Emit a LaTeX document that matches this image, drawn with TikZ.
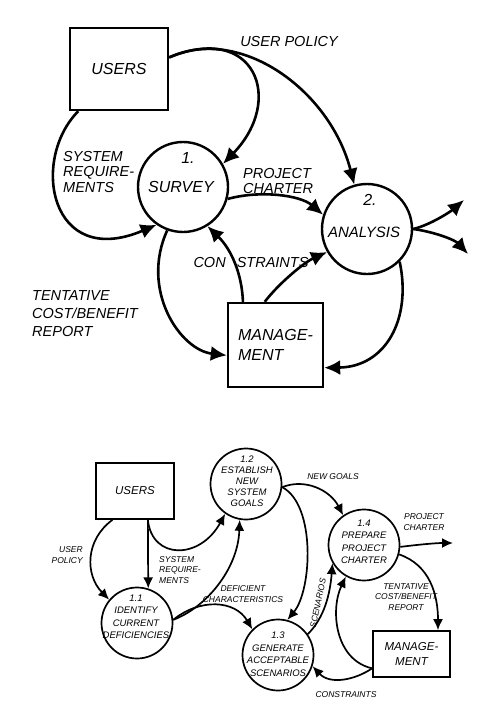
\documentclass[tikz,border=0pt]{standalone}
\usepackage{fontspec}
\setmainfont{Liberation Sans}
\usetikzlibrary{arrows.meta}
\begin{document}
\begin{tikzpicture}[x=1pt,y=-1pt,
  ext/.style={draw, rectangle, line width=2.4pt, inner sep=0pt, align=center, font=\fontsize{16}{20}\selectfont\itshape},
  proc/.style={draw, circle, line width=2.4pt, minimum size=90pt, inner sep=0pt},
  txt/.style={inner sep=0pt, font=\fontsize{16}{20}\selectfont\itshape},
  lbl/.style={inner sep=0pt, font=\fontsize{14.5}{15.5}\selectfont\itshape},
  flow/.style={line width=2.6pt, -{Latex[length=16pt,width=15pt]}},
  ext2/.style={draw, rectangle, line width=1.7pt, inner sep=0pt, align=center, font=\fontsize{11.5}{15}\selectfont\itshape},
  proc2/.style={draw, circle, line width=1.7pt, minimum size=71pt, inner sep=0pt},
  txt2/.style={inner sep=0pt, align=center, font=\fontsize{9.5}{12.5}\selectfont\itshape},
  lbl2/.style={inner sep=0pt, font=\fontsize{8.5}{10.5}\selectfont\itshape},
  flow2/.style={line width=1.7pt, -{Latex[length=11pt,width=10pt]}}]
\useasboundingbox (0,0) rectangle (488,720);

% overview
\node[ext, minimum width=98pt, minimum height=82pt] (users) at (119,69) {USERS};
\node[proc] (survey) at (183,187) {};
\node[txt] (survey-no) at (188,158) {1.};
\node[txt] (survey-nm) at (181,187) {SURVEY};
\node[proc] (analysis) at (367,229) {};
\node[txt] (analysis-no) at (370,200) {2.};
\node[txt, font=\fontsize{15}{18}\selectfont\itshape] (analysis-nm) at (364,232) {ANALYSIS};
\node[ext, minimum width=95pt, minimum height=84pt, align=left] (mgmt) at (275.5,345) {MANAGE-\\MENT};
\coordinate (out1) at (464,200);
\coordinate (out2) at (468,254);

\draw[flow] (users.13) .. controls (255,22) and (285,100) .. (survey.30);
\draw[flow] (users.13) .. controls (240,25) and (330,90) .. (analysis.106);
\draw[flow] (users.226) .. controls (30,160) and (50,270) .. (survey.235);
\draw[flow] (survey.-15) .. controls (260,190) and (300,195) .. (analysis.162);
\draw[flow] (survey.250) .. controls (140,290) and (180,350) .. (mgmt.192);
\draw[flow] (mgmt.127) .. controls (242,275) and (232,250) .. (survey.-58);
\draw[flow] (mgmt.104) .. controls (280,282) and (305,262) .. (analysis.210);
\draw[flow] (analysis.-45) .. controls (412,320) and (385,367) .. (mgmt.-25);
\draw[flow] (analysis.0) .. controls (430,225) and (450,212) .. (out1);
\draw[flow] (analysis.0) .. controls (435,232) and (455,240) .. (out2);

\node[lbl] (l-policy) at (289,42) {USER POLICY};
\node[lbl, anchor=west, align=left] (l-sysreq) at (63,172) {SYSTEM\\REQUIRE-\\MENTS};
\node[lbl, anchor=west, align=left] (l-charter) at (243,181) {PROJECT\\CHARTER};
\node[lbl] (l-constr) at (251,263) {CON\hspace{7pt} STRAINTS};
\node[lbl, anchor=west, align=left, font=\fontsize{14.5}{18}\selectfont\itshape] (l-report) at (32,314) {TENTATIVE\\COST/BENEFIT\\REPORT};

% survey exploded
\node[ext2, minimum width=78pt, minimum height=56pt] (users2) at (135,491) {USERS};
\node[proc2] (c11) at (137,623) {};
\node[txt2] (c11-t) at (136,617) {1.1\\IDENTIFY\\CURRENT\\DEFICIENCIES};
\node[proc2] (c12) at (246,484) {};
\node[txt2, font=\fontsize{9.5}{11}\selectfont\itshape] (c12-t) at (247,481) {1.2\\ESTABLISH\\NEW\\SYSTEM\\GOALS};
\node[proc2] (c13) at (278,655) {};
\node[txt2] (c13-t) at (278,654) {1.3\\GENERATE\\ACCEPTABLE\\SCENARIOS};
\node[proc2] (c14) at (364,545) {};
\node[txt2] (c14-t) at (364,542) {1.4\\PREPARE\\PROJECT\\CHARTER};
\node[ext2, minimum width=77pt, minimum height=46pt] (mgmt2) at (411.5,654) {MANAGE-\\MENT};
\coordinate (out3) at (453,543);

\draw[flow2] (users2.232) .. controls (85,540) and (85,575) .. (c11.140);
\draw[flow2] (users2.-66) -- (c11.72);
\draw[flow2] (users2.-66) .. controls (152,560) and (200,560) .. (c12.235);
\draw[flow2] (c11.5) .. controls (205,608) and (238,570) .. (c12.260);
\draw[flow2] (c11.5) .. controls (200,598) and (235,600) .. (c13.135);
\draw[flow2] (c12.-5) .. controls (316,505) and (312,590) .. (c13.75);
\draw[flow2] (c12.-5) .. controls (305,478) and (330,490) .. (c14.125);
\draw[flow2] (c13.35) .. controls (324,618) and (330,595) .. (c14.210);
\draw[flow2] (c14.-3) .. controls (415,545) and (435,543) .. (out3);
\draw[flow2] (c14.-15) .. controls (430,565) and (438,595) .. (mgmt2.42);
\draw[flow2] (mgmt2.200) .. controls (355,680) and (330,685) .. (c13.-18);
\draw[flow2] (mgmt2.200) .. controls (335,660) and (330,610) .. (c14.240);

\node[lbl2, anchor=east, align=right] (l-policy2) at (83,555) {USER\\POLICY};
\node[lbl2, anchor=west, align=left] (l-sysreq2) at (159,570) {SYSTEM\\REQUIRE-\\MENTS};
\node[lbl2, align=center] (l-defic) at (243,594) {DEFICIENT\\CHARACTERISTICS};
\node[lbl2] (l-goals) at (333,477) {NEW GOALS};
\node[lbl2, align=center] (l-charter2) at (424,522) {PROJECT\\CHARTER};
\node[lbl2, align=center] (l-report2) at (406,597) {TENTATIVE\\COST/BENEFIT\\REPORT};
\node[lbl2, rotate=78] (l-scen) at (318,603) {SCENARIOS};
\node[lbl2] (l-constr2) at (346,695) {CONSTRAINTS};
\end{tikzpicture}
\end{document}
